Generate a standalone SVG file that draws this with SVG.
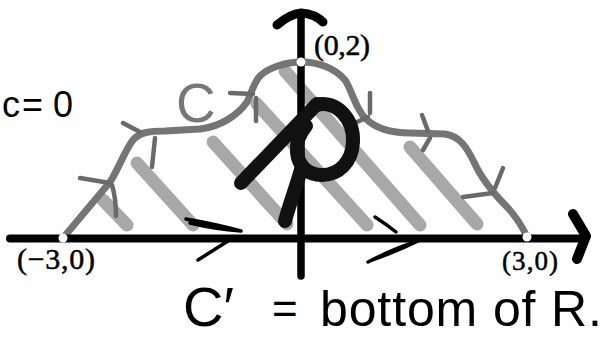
<svg xmlns="http://www.w3.org/2000/svg" width="607" height="341" viewBox="0 0 607 341">
<style>
.hatch{fill:none;stroke:#a8a8a8;stroke-width:13;stroke-linecap:round}
.curve{fill:none;stroke:#757575;stroke-width:7;stroke-linecap:round;stroke-linejoin:round}
.tick{fill:none;stroke:#6a6a6a;stroke-width:4.5;stroke-linecap:round;stroke-linejoin:round}
.axis{fill:none;stroke:#000;stroke-linecap:round;stroke-linejoin:round}
.rr{fill:none;stroke:#111;stroke-width:14;stroke-linecap:round;stroke-linejoin:round}
.pen{fill:none;stroke:#000;stroke-width:3.5;stroke-linecap:round;stroke-linejoin:round}
.lbl{font-family:"Liberation Serif","Times New Roman",serif;fill:#000;stroke:#000;stroke-width:0.5}
.hand{font-family:"Liberation Sans",Arial,sans-serif;fill:#000}
.dot{fill:#fff}
</style>
<rect width="607" height="341" fill="#fff"/>
<g id="hatching">
<line class="hatch" x1="103" y1="200" x2="127" y2="225"/>
<line class="hatch" x1="137" y1="163" x2="193" y2="225"/>
<line class="hatch" x1="213" y1="142" x2="287" y2="224"/>
<line class="hatch" x1="257" y1="104" x2="367" y2="225"/>
<line class="hatch" x1="285" y1="71" x2="420" y2="225"/>
<line class="hatch" x1="410" y1="147" x2="477" y2="224"/>
</g>
<g id="curve-C">
<path class="curve" d="M63,238 L110,182 C118,170 125,150 133,140 C140,132 150,131 165,131 L200,129 C220,127 238,115 247,102 C252,92 254,82 260,76 C268,68 285,62 302,62 C318,62 335,68 345,80 C352,90 355,108 365,118 C375,128 390,133 410,133 L445,134 C460,136 467,148 474,162 C482,180 495,195 508,208 C516,217 523,228 527,237"/>
<path class="tick" d="M80,178 L110,183 M112,185 C115,195 116,205 116,216"/>
<path class="tick" d="M123,123 L140,132 M155,138 L152,167"/>
<path class="tick" d="M230,93 L253,94 M256,98 L256,121"/>
<path class="tick" d="M370,93 L370,113 M357,122 L368,117"/>
<path class="tick" d="M422,115 L428,131 M423,150 L430,138"/>
<path class="tick" d="M503,168 L495,188 M463,197 L493,193"/>
<text class="hand" x="176" y="122" font-size="55" style="fill:#777">C</text>
</g>
<g id="axes">
<line class="axis" x1="10" y1="238.5" x2="584" y2="238.5" stroke-width="8"/>
<line class="axis" x1="301" y1="14" x2="301" y2="276" stroke-width="7.5"/>
<path class="axis" d="M277,25 Q290,14 301,13 Q315,14 323,22" stroke-width="9"/>
<path class="axis" d="M573,214 L586,236 L577,259" stroke-width="10"/>
</g>
<g id="region-R">
<path class="rr" d="M241,183 L317,104"/>
<path class="rr" d="M316,105 C337,99 354,120 353,142 C352,162 339,175 322,175 C308,175 298,166 297,152 C296,141 300,133 306,126"/>
<path class="rr" d="M302,166 C298,182 290,202 285,221" stroke-width="12"/>
</g>
<g id="bottom-arrows">
<path class="pen" d="M186,219 Q215,224 241,231 Q215,229 190,223"/>
<path class="pen" d="M198,260 L228,241"/>
<path class="pen" d="M375,217 Q386,224 396,232"/>
<path class="pen" d="M368,262 Q395,248 418,241 Q398,251 372,260" stroke-width="3"/>
</g>
<g id="points">
<circle class="dot" cx="63" cy="238" r="4.5"/>
<circle class="dot" cx="527" cy="237" r="4.5"/>
<circle class="dot" cx="301" cy="62" r="4.5"/>
</g>
<g id="labels">
<text class="lbl" x="314" y="55" font-size="30" textLength="56">(0,2)</text>
<text class="lbl" x="17" y="269" font-size="30" textLength="78">(−3,0)</text>
<text class="lbl" x="502" y="270" font-size="27" textLength="56">(3,0)</text>
<text class="hand" font-size="36" y="117"><tspan x="2">c</tspan><tspan x="22">= 0</tspan></text>
<text class="hand" x="183" y="326" font-size="56">C′</text>
<text class="hand" x="272" y="324" font-size="44">=</text>
<text class="hand" x="320" y="326" font-size="50" textLength="282">bottom of R.</text>
</g>
</svg>
